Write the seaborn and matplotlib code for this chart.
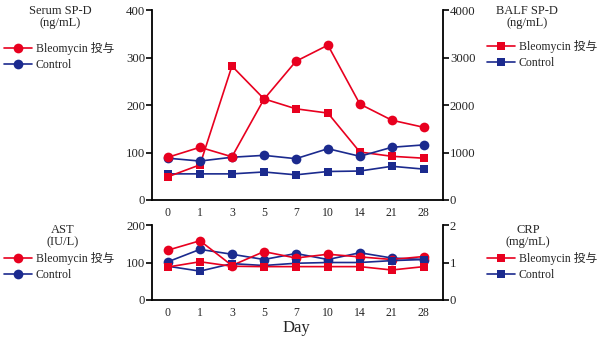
import matplotlib
matplotlib.use("Agg")
import matplotlib.pyplot as plt
import seaborn as sns
import pandas as pd
import numpy as np

sns.set_theme(style="white")
plt.rcParams['font.family'] = ['Liberation Serif', 'Noto Sans CJK JP']

days = ["0", "1", "3", "5", "7", "10", "14", "21", "28"]
serum_bleo = [90, 111, 91, 212, 292, 326, 202, 168, 153]
serum_ctrl = [88, 82, 90, 94, 87, 108, 92, 111, 116]
balf_bleo = [490, 740, 2820, 2130, 1920, 1830, 1010, 920, 880]
balf_ctrl = [550, 550, 550, 590, 530, 600, 610, 710, 650]
ast_bleo = [133, 158, 92, 129, 112, 122, 115, 108, 116]
ast_ctrl = [102, 135, 122, 108, 124, 108, 126, 112, 108]
crp_bleo = [0.88, 1.02, 0.90, 0.89, 0.89, 0.89, 0.89, 0.80, 0.89]
crp_ctrl = [0.90, 0.77, 0.97, 0.92, 0.98, 1.00, 1.00, 1.05, 1.08]

RED = "#E8001F"
BLUE = "#1B2A8E"
LABEL_B = "Bleomycin 投与"
LABEL_C = "Control"

W, H = 600, 341
fig = plt.figure(figsize=(W / 100, H / 100), dpi=100)

def fx(px):
    return px / W

def fy(py):
    return 1 - py / H

pos = np.arange(len(days))
df = pd.DataFrame({"pos": pos, "serum_bleo": serum_bleo, "serum_ctrl": serum_ctrl,
                   "balf_bleo": balf_bleo, "balf_ctrl": balf_ctrl,
                   "ast_bleo": ast_bleo, "ast_ctrl": ast_ctrl,
                   "crp_bleo": crp_bleo, "crp_ctrl": crp_ctrl})

left, right = 152, 443
ax1 = fig.add_axes([fx(left), fy(200), fx(right - left), (200 - 10) / H])
ax3 = fig.add_axes([fx(left), fy(300), fx(right - left), (300 - 225) / H])
ax2 = ax1.twinx()
ax4 = ax3.twinx()

lw = 1.2
ms_c = 7.0
ms_s = 6.3

def draw(ax, col, color, marker, ms, z):
    sns.lineplot(data=df, x="pos", y=col, ax=ax, color=color, marker=marker,
                 markersize=ms, markeredgewidth=0, linewidth=lw, zorder=z, legend=False)

# top panel
draw(ax2, "balf_ctrl", BLUE, "s", ms_s, 2)
draw(ax2, "balf_bleo", RED, "s", ms_s, 3)
draw(ax1, "serum_ctrl", BLUE, "o", ms_c, 2)
draw(ax1, "serum_bleo", RED, "o", ms_c, 3)
ax1.set_zorder(ax2.get_zorder() + 1)
ax1.patch.set_visible(False)

# bottom panel
draw(ax4, "crp_ctrl", BLUE, "s", ms_s, 2)
draw(ax4, "crp_bleo", RED, "s", ms_s, 3)
draw(ax3, "ast_ctrl", BLUE, "o", ms_c, 2)
draw(ax3, "ast_bleo", RED, "o", ms_c, 3)

fs = 8.5
fs_tick = 9.2
for ax_l, ax_r, ylim_l, ticks_l, ylim_r, ticks_r in [
        (ax1, ax2, (0, 400), [0, 100, 200, 300, 400], (0, 4000), [0, 1000, 2000, 3000, 4000]),
        (ax3, ax4, (0, 200), [0, 100, 200], (0, 2), [0, 1, 2])]:
    for a in (ax_l, ax_r):
        a.set_xlim(-0.5, 8.6)
        a.set_xlabel("")
        a.set_ylabel("")
        a.grid(False)
        for s in a.spines.values():
            s.set_visible(False)
    ax_l.set_ylim(*ylim_l)
    ax_l.set_yticks(ticks_l)
    ax_r.set_ylim(*ylim_r)
    ax_r.set_yticks(ticks_r)
    ax_l.spines["left"].set_visible(True)
    ax_l.spines["bottom"].set_visible(True)
    ax_r.spines["right"].set_visible(True)
    for sp in (ax_l.spines["left"], ax_l.spines["bottom"], ax_r.spines["right"]):
        sp.set_color("black")
        sp.set_linewidth(1.3)
    ax_l.set_xticks(pos)
    ax_l.set_xticklabels(days, fontsize=fs)
    ax_l.set_xticks(np.arange(-0.5, 9, 1.0), minor=True)
    ax_l.tick_params(axis="x", which="major", length=0, pad=5)
    ax_l.tick_params(axis="x", which="minor", direction="in", length=4, width=1.2, color="black")
    ax_l.tick_params(axis="y", direction="out", length=4, width=1.2, color="black",
                     labelsize=fs_tick, pad=1, left=True)
    ax_r.tick_params(axis="y", direction="out", length=4, width=1.2, color="black",
                     labelsize=fs_tick, pad=1, right=True)
    ax_r.tick_params(axis="x", bottom=False, labelbottom=False)

fig.text(fx(296), fy(328), "Day", ha="center", va="center", fontsize=12)

def add_legend(title, tx, ty, marker, ms, lx, ly):
    fig.text(fx(tx), fy(ty), title, ha="center", va="center", fontsize=9, linespacing=1.05)
    hb = plt.Line2D([], [], color=RED, marker=marker, markersize=ms, markeredgewidth=0, linewidth=lw)
    hc = plt.Line2D([], [], color=BLUE, marker=marker, markersize=ms, markeredgewidth=0, linewidth=lw)
    fig.legend([hb, hc], [LABEL_B, LABEL_C], loc="upper left",
               bbox_to_anchor=(fx(lx), fy(ly)), frameon=False, fontsize=fs,
               handlelength=2.4, handletextpad=0.3, labelspacing=0.35,
               borderpad=0, borderaxespad=0)

add_legend("Serum SP-D\n(ng/mL)", 60, 17, "o", ms_c, 4, 42)
add_legend("BALF SP-D\n(ng/mL)", 527, 17, "s", ms_s, 487, 40)
add_legend("AST\n(IU/L)", 63, 236, "o", ms_c, 4, 252)
add_legend("CRP\n(mg/mL)", 528, 236, "s", ms_s, 487, 252)

fig.savefig("out.png", dpi=100)
